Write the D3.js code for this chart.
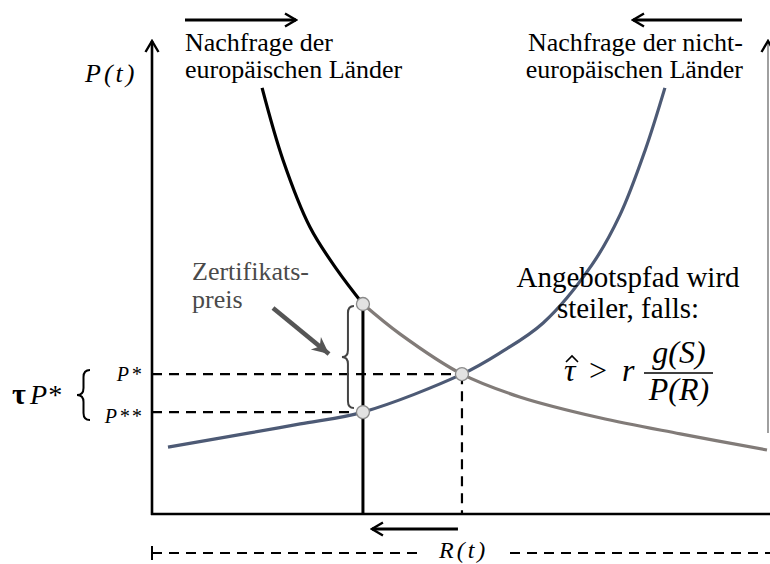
<!DOCTYPE html>
<html>
<head>
<meta charset="utf-8">
<script src="https://cdn.jsdelivr.net/npm/d3@7"></script>
<style>
  body { margin: 0; background: #fff; }
  text { font-family: "Liberation Serif", "DejaVu Serif", serif; }
</style>
</head>
<body>
<div id="chart"></div>
<script>
const width = 770;
const height = 564;

// model units: R on x, P on y (0..100 each)
const demandEU = [[17.9, 89.9], [21.3, 74.7], [25.7, 60.5], [30.1, 51.5], [34.3, 44.3],
    [40.3, 38.0], [50.4, 29.5], [59.8, 24.7], [72.8, 20.3], [85.9, 16.9], [100, 13.5]];
const demandNonEU = [[2.6, 14.1], [15.9, 17.1], [24.1, 19.0], [34.3, 21.5], [50.4, 29.5],
    [56.6, 34.0], [63.6, 40.3], [71.5, 52.5], [76.1, 63.1], [80.2, 76.8], [83.4, 89.9]];

const rQuota = 34.3;   // capped EU demand
const rStar = 50.4;    // equilibrium
const pStar = 29.5;
const pHigh = 44.3;
const pLow = 21.5;

const labelsEU = ["Nachfrage der", "europäischen Länder"];
const labelsNonEU = ["Nachfrage der nicht-", "europäischen Länder"];
const labelsCert = ["Zertifikats-", "preis"];
const labelsSupply = ["Angebotspfad wird", "steiler, falls:"];

const x = d3.scaleLinear().domain([0, 100]).range([152, 767]);
const y = d3.scaleLinear().domain([0, 100]).range([514, 40]);

const svg = d3.create("svg")
    .attr("width", width)
    .attr("height", height);

const defs = svg.append("defs");
defs.append("marker")
    .attr("id", "open")
    .attr("markerUnits", "userSpaceOnUse")
    .attr("viewBox", "-12 -8 14 16")
    .attr("refX", 0).attr("refY", 0)
    .attr("markerWidth", 14).attr("markerHeight", 16)
    .attr("orient", "auto")
    .append("path")
    .attr("d", "M-11,-6.5 L0,0 L-11,6.5")
    .attr("fill", "none")
    .attr("stroke", "#000")
    .attr("stroke-width", 2.4);
defs.append("marker")
    .attr("id", "solid")
    .attr("markerUnits", "userSpaceOnUse")
    .attr("viewBox", "-18 -9 20 18")
    .attr("refX", 0).attr("refY", 0)
    .attr("markerWidth", 20).attr("markerHeight", 18)
    .attr("orient", "auto")
    .append("path")
    .attr("d", "M-17,-8 L0,0 L-17,8 L-12,0 Z")
    .attr("fill", "#555");

function arrow(x1, y1, x2, y2, w, color) {
    svg.append("line")
        .attr("x1", x1).attr("y1", y1)
        .attr("x2", x2).attr("y2", y2)
        .attr("stroke", color || "#000")
        .attr("stroke-width", w || 2.5)
        .attr("marker-end", "url(#open)");
}

function brace(xt, xr, y1, y2, color, w) {
    const xm = (xt + xr) / 2;
    const ym = (y1 + y2) / 2;
    const r = 7;
    const p = d3.path();
    p.moveTo(xr, y1);
    p.quadraticCurveTo(xm, y1, xm, y1 + r);
    p.lineTo(xm, ym - r);
    p.quadraticCurveTo(xm, ym, xt, ym);
    p.quadraticCurveTo(xm, ym, xm, ym + r);
    p.lineTo(xm, y2 - r);
    p.quadraticCurveTo(xm, y2, xr, y2);
    svg.append("path")
        .attr("d", p.toString())
        .attr("fill", "none")
        .attr("stroke", color)
        .attr("stroke-width", w);
}

// axes
svg.append("line")
    .attr("x1", x(0)).attr("y1", y(0) + 1)
    .attr("x2", x(0)).attr("y2", 41)
    .attr("stroke", "#000").attr("stroke-width", 2.6)
    .attr("marker-end", "url(#open)");
svg.append("line")
    .attr("x1", x(0) - 1).attr("y1", y(0))
    .attr("x2", width).attr("y2", y(0))
    .attr("stroke", "#000").attr("stroke-width", 2.6);
svg.append("line")
    .attr("x1", x(100) + 1).attr("y1", 433)
    .attr("x2", x(100) + 1).attr("y2", 41)
    .attr("stroke", "#777").attr("stroke-width", 1.4)
    .attr("marker-end", "url(#open)");

// dashed guides
const dash = "10,7";
svg.append("line")
    .attr("x1", x(0)).attr("x2", x(rStar))
    .attr("y1", y(pStar)).attr("y2", y(pStar))
    .attr("stroke", "#000").attr("stroke-width", 2.2).attr("stroke-dasharray", dash);
svg.append("line")
    .attr("x1", x(0)).attr("x2", x(rQuota))
    .attr("y1", y(pLow)).attr("y2", y(pLow))
    .attr("stroke", "#000").attr("stroke-width", 2.2).attr("stroke-dasharray", dash);
svg.append("line")
    .attr("x1", x(rStar)).attr("x2", x(rStar))
    .attr("y1", y(pStar)).attr("y2", y(0))
    .attr("stroke", "#000").attr("stroke-width", 2.2).attr("stroke-dasharray", dash);

// quota line
svg.append("line")
    .attr("x1", x(rQuota)).attr("x2", x(rQuota))
    .attr("y1", y(pHigh)).attr("y2", y(0))
    .attr("stroke", "#000").attr("stroke-width", 3);

const line = d3.line()
    .x(d => x(d[0]))
    .y(d => y(d[1]))
    .curve(d3.curveCatmullRom.alpha(0.5));

svg.append("path")
    .datum(demandEU.filter(d => d[0] >= rQuota))
    .attr("d", line)
    .attr("fill", "none")
    .attr("stroke", "#817b78")
    .attr("stroke-width", 3.2);
svg.append("path")
    .datum(demandEU.filter(d => d[0] <= rQuota))
    .attr("d", line)
    .attr("fill", "none")
    .attr("stroke", "#000")
    .attr("stroke-width", 3.2);
svg.append("path")
    .datum(demandNonEU)
    .attr("d", line)
    .attr("fill", "none")
    .attr("stroke", "#4d5a75")
    .attr("stroke-width", 3.2);

// certificate price brace + arrow
brace(x(rQuota) - 21, x(rQuota) - 9, y(pHigh) + 2, y(pLow) - 4, "#444", 2);
svg.append("line")
    .attr("x1", 273).attr("y1", 308)
    .attr("x2", 329).attr("y2", 354)
    .attr("stroke", "#555").attr("stroke-width", 4.5)
    .attr("marker-end", "url(#solid)");

// points
svg.selectAll("circle.pt")
    .data([[rQuota, pHigh], [rQuota, pLow], [rStar, pStar]])
    .join("circle")
    .attr("class", "pt")
    .attr("cx", d => x(d[0]))
    .attr("cy", d => y(d[1]))
    .attr("r", 6.5)
    .attr("fill", "#e2e2e2")
    .attr("stroke", "#8a8a8a")
    .attr("stroke-width", 1.3);

// top arrows
arrow(185, 20, 296, 20, 2.8);
arrow(742, 20, 633, 20, 2.8);
// bottom arrow
arrow(x(rStar) - 4, 529, x(rQuota) + 9, 529, 2.8);

// labels
const fs = 26;
svg.append("g").selectAll("text")
    .data(labelsEU).join("text")
    .attr("x", 185).attr("y", (d, i) => 51 + i * 27)
    .attr("font-size", fs)
    .text(d => d);
svg.append("g").selectAll("text")
    .data(labelsNonEU).join("text")
    .attr("x", 743).attr("y", (d, i) => 51 + i * 27)
    .attr("text-anchor", "end")
    .attr("font-size", fs)
    .text(d => d);
svg.append("g").selectAll("text")
    .data(labelsCert).join("text")
    .attr("x", 192).attr("y", (d, i) => 280 + i * 28)
    .attr("font-size", 26)
    .attr("fill", "#4a4a4a")
    .text(d => d);
svg.append("g").selectAll("text")
    .data(labelsSupply).join("text")
    .attr("x", 628).attr("y", (d, i) => 287 + i * 31)
    .attr("text-anchor", "middle")
    .attr("font-size", 29)
    .text(d => d);

// formula
const fx = svg.append("g").attr("font-style", "italic").attr("font-size", 32);
fx.append("text").attr("x", 564).attr("y", 381).text("τ");
svg.append("path")
    .attr("d", "M566,362 L572,356 L578,362")
    .attr("fill", "none").attr("stroke", "#000").attr("stroke-width", 1.6);
fx.append("text").attr("x", 589).attr("y", 381).attr("font-style", "normal").text(">");
fx.append("text").attr("x", 622).attr("y", 381).text("r");
fx.append("text").attr("x", 679).attr("y", 363).attr("text-anchor", "middle").text("g(S)");
fx.append("text").attr("x", 679).attr("y", 400).attr("text-anchor", "middle").text("P(R)");
fx.append("line")
    .attr("x1", 644).attr("x2", 713)
    .attr("y1", 373).attr("y2", 373)
    .attr("stroke", "#000").attr("stroke-width", 1.3);

// axis labels
svg.append("text")
    .attr("x", 85).attr("y", 82)
    .attr("font-size", 26).attr("font-style", "italic")
    .attr("letter-spacing", 3)
    .text("P(t)");
svg.append("text")
    .attr("x", 439).attr("y", 558)
    .attr("font-size", 24).attr("font-style", "italic")
    .attr("letter-spacing", 3)
    .text("R(t)");

// bottom dashed span
svg.append("line")
    .attr("x1", x(0)).attr("x2", x(0))
    .attr("y1", 546).attr("y2", 560)
    .attr("stroke", "#000").attr("stroke-width", 2);
svg.append("line")
    .attr("x1", x(0)).attr("x2", 418)
    .attr("y1", 553).attr("y2", 553)
    .attr("stroke", "#000").attr("stroke-width", 2).attr("stroke-dasharray", dash);
svg.append("line")
    .attr("x1", 510).attr("x2", width)
    .attr("y1", 553).attr("y2", 553)
    .attr("stroke", "#000").attr("stroke-width", 2).attr("stroke-dasharray", dash);

// tau P* bracket
brace(77, 90, 370, 420, "#000", 2);
svg.append("text")
    .attr("x", 12).attr("y", 404)
    .attr("font-size", 30).attr("font-weight", "bold")
    .text("τ");
svg.append("text")
    .attr("x", 30).attr("y", 404)
    .attr("font-size", 28).attr("font-style", "italic")
    .text("P*");
svg.append("text")
    .attr("x", 143).attr("y", 381)
    .attr("text-anchor", "end")
    .attr("font-size", 20).attr("font-style", "italic")
    .attr("letter-spacing", 2)
    .text("P*");
svg.append("text")
    .attr("x", 143).attr("y", 423)
    .attr("text-anchor", "end")
    .attr("font-size", 20).attr("font-style", "italic")
    .attr("letter-spacing", 2)
    .text("P**");

d3.select("#chart").append(() => svg.node());
</script>
</body>
</html>
